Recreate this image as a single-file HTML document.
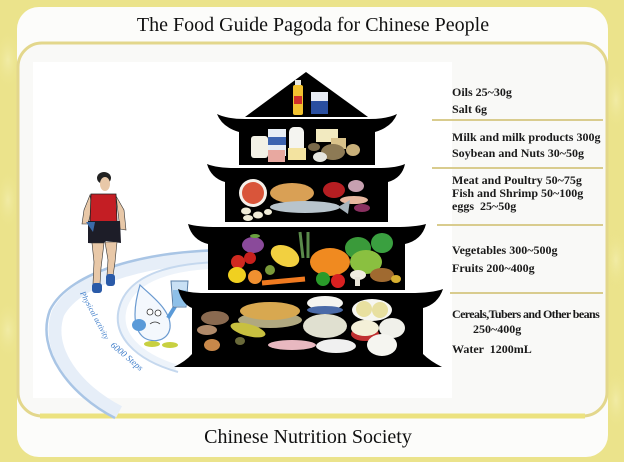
<!DOCTYPE html>
<html><head><meta charset="utf-8"><style>
html,body{margin:0;padding:0;width:624px;height:462px;overflow:hidden;background:#ebe38b}
svg{display:block}
.t{font-family:"Liberation Serif",serif;fill:#111}
.r{font-family:"Liberation Serif",serif;font-weight:bold;font-size:12px;fill:#1a1a1a}
</style></head><body>
<svg width="624" height="462" viewBox="0 0 624 462" xmlns="http://www.w3.org/2000/svg">
<defs>
<radialGradient id="sw" cx="50%" cy="50%" r="50%"><stop offset="0" stop-color="#f4efb0"/><stop offset="1" stop-color="#ebe38b" stop-opacity="0"/></radialGradient>
</defs>
<rect width="624" height="462" fill="#ebe38b"/>
<g fill="url(#sw)" opacity="0.7">
<ellipse cx="8" cy="60" rx="14" ry="30"/><ellipse cx="8" cy="200" rx="12" ry="30"/><ellipse cx="8" cy="330" rx="14" ry="30"/>
<ellipse cx="616" cy="100" rx="12" ry="30"/><ellipse cx="616" cy="260" rx="12" ry="30"/><ellipse cx="616" cy="400" rx="12" ry="30"/>
</g>
<!-- outer white panel -->
<rect x="17" y="7" width="591" height="450" rx="22" fill="#fcfcfa"/>
<!-- inner panel -->
<rect x="18" y="43" width="589" height="373" rx="24" fill="#f9f9f7" stroke="#e3d78c" stroke-width="3"/>
<line x1="40" y1="416" x2="585" y2="416" stroke="#ece27f" stroke-width="5"/>
<rect x="33" y="62" width="419" height="336" fill="#ffffff"/>

<text class="t" x="313" y="31" font-size="20" text-anchor="middle">The Food Guide Pagoda for Chinese People</text>
<text class="t" x="308" y="443" font-size="20" text-anchor="middle">Chinese Nutrition Society</text>

<!-- track -->
<path d="M232,257 C152,257 78,276 58,313 C45,350 76,390 119,412" fill="none" stroke="#e6eef8" stroke-width="13"/>
<path d="M232,250 C150,250 70,270 50,310 C35,350 70,395 115,418" fill="none" stroke="#a9c5e5" stroke-width="2.5"/>
<path d="M228,265 C172,265 134,278 124,306 C115,334 138,356 176,368" fill="none" stroke="#edf3fa" stroke-width="7"/>
<path d="M228,262 C170,262 130,275 120,305 C110,335 135,360 178,372" fill="none" stroke="#c5d8ee" stroke-width="2"/>
<text x="80" y="293" font-size="8" font-style="italic" fill="#3d7cc9" font-family="Liberation Serif,serif" transform="rotate(62 80 293)">Physical activity</text>
<text x="110" y="346" font-size="9" font-style="italic" fill="#3d7cc9" font-family="Liberation Serif,serif" transform="rotate(40 110 346)">6000 Steps</text>

<!-- runner -->
<g>
<ellipse cx="104" cy="178" rx="7" ry="6" fill="#222"/>
<ellipse cx="105" cy="184" rx="5" ry="7" fill="#e8c8a8"/>
<path d="M90,195 L84,210 L82,224 L88,224 L92,208 Z" fill="#e8c8a8" stroke="#333" stroke-width="0.6"/>
<path d="M116,196 L124,210 L126,230 L120,229 L118,212 Z" fill="#e8c8a8" stroke="#333" stroke-width="0.6"/>
<path d="M91,194 L116,194 L117,222 L90,223 Z" fill="#c41e24" stroke="#222" stroke-width="0.8"/>
<path d="M88,221 L120,221 L121,243 L106,241 L103,244 L88,243 Z" fill="#1d1d28"/>
<path d="M86,222 L95,222 L93,232 Z" fill="#3a6aa8"/>
<path d="M92,243 L104,243 L101,268 L100,284 L93,284 L94,262 Z" fill="#e8c8a8" stroke="#333" stroke-width="0.6"/>
<path d="M105,242 L117,242 L115,262 L113,276 L107,276 L108,260 Z" fill="#e8c8a8" stroke="#333" stroke-width="0.6"/>
<rect x="92" y="283" width="10" height="10" rx="3" fill="#2a5aa8"/>
<rect x="106" y="274" width="9" height="12" rx="3" fill="#2a5aa8"/>
</g>

<!-- water drop -->
<g>
<path d="M140,285 C150,295 172,310 170,328 C168,342 150,344 142,336 C132,326 134,305 140,285 Z" fill="#f4f8fd" stroke="#6a9ad0" stroke-width="1.2"/>
<circle cx="150" cy="312" r="3" fill="#fff" stroke="#333" stroke-width="0.8"/>
<circle cx="158" cy="313" r="3" fill="#fff" stroke="#333" stroke-width="0.8"/>
<path d="M150,324 Q155,320 160,324" fill="none" stroke="#333" stroke-width="0.8"/>
<ellipse cx="139" cy="325" rx="7" ry="6" fill="#5a9ad8"/>
<path d="M168,318 L176,305" stroke="#5a9ad8" stroke-width="4"/>
<path d="M171,281 L188,281 L186,307 L173,307 Z" fill="#c8e0f4" stroke="#5a80a8" stroke-width="1"/>
<rect x="173" y="290" width="13" height="16" fill="#8ec0e8"/>
<ellipse cx="152" cy="344" rx="8" ry="3" fill="#c8d040"/>
<ellipse cx="170" cy="345" rx="8" ry="3" fill="#c8d040"/>
</g>

<!-- pagoda -->
<g fill="#000">
<polygon points="306,72 245,117 368,117"/>
<path d="M217,114 Q227,119 245,119 L369,119 Q387,119 397,114 Q392,127 375,132 L375,165 L239,165 L239,132 Q222,127 217,114 Z"/>
<path d="M207,164 Q217,168 235,168 L378,168 Q396,168 405,164 Q402,178 388,182 L388,222 L225,222 L225,182 Q211,178 207,164 Z"/>
<path d="M188,224 Q198,227 218,227 L395,227 Q415,227 426,224 Q422,240 405,244 L405,290 L208,290 L208,244 Q192,240 188,224 Z"/>
<path d="M178,289 Q188,293 205,293 L410,293 Q432,293 443,289 Q438,304 423,308 L423,354 Q430,361 442,367 L174,367 Q186,361 192,354 L192,308 Q182,304 178,289 Z"/>
</g>

<!-- roof items -->
<rect x="295" y="80" width="6" height="6" fill="#e8e8e0"/>
<rect x="293" y="85" width="10" height="30" rx="2" fill="#f2c230"/>
<rect x="294" y="96" width="8" height="8" fill="#d0302a"/>
<rect x="311" y="92" width="17" height="22" fill="#2a4fa0"/>
<rect x="311" y="92" width="17" height="9" fill="#e8ecf4"/>

<!-- tier 1 milk -->
<rect x="251" y="136" width="17" height="22" rx="3" fill="#f3f1e6"/>
<rect x="268" y="129" width="18" height="27" fill="#e8eef5"/>
<rect x="268" y="137" width="18" height="8" fill="#3d64b0"/>
<rect x="289" y="127" width="15" height="27" rx="5" fill="#f4f4f0"/>
<rect x="268" y="150" width="17" height="12" fill="#e8a8a0"/>
<rect x="288" y="148" width="18" height="12" fill="#f3e3a0"/>
<rect x="316" y="129" width="22" height="13" fill="#f2eac0"/>
<rect x="331" y="138" width="15" height="11" fill="#d9c28a"/>
<ellipse cx="333" cy="152" rx="12" ry="8" fill="#8d7a55"/>
<ellipse cx="353" cy="150" rx="7" ry="6" fill="#c9b07a"/>
<ellipse cx="320" cy="157" rx="7" ry="5" fill="#e6e6e0"/>
<ellipse cx="314" cy="147" rx="6" ry="4" fill="#7a6a4a"/>

<!-- tier 2 meat -->
<circle cx="253" cy="193" r="14" fill="#f5f0ea"/>
<circle cx="253" cy="193" r="11" fill="#d9553a"/>
<ellipse cx="292" cy="193" rx="22" ry="10" fill="#d9a055"/>
<ellipse cx="334" cy="190" rx="11" ry="8" fill="#b51e22"/>
<ellipse cx="356" cy="186" rx="8" ry="6" fill="#c7a0b0"/>
<ellipse cx="354" cy="200" rx="14" ry="4" fill="#e8b8a0"/>
<ellipse cx="362" cy="208" rx="8" ry="4" fill="#8a3060"/>
<ellipse cx="305" cy="207" rx="35" ry="6" fill="#b8c4cc"/>
<polygon points="338,207 350,200 348,214" fill="#a8b4bc"/>
<ellipse cx="246" cy="211" rx="5" ry="3.5" fill="#f0ecd8"/>
<ellipse cx="258" cy="215" rx="5" ry="3.5" fill="#f0ecd8"/>
<ellipse cx="248" cy="218" rx="5" ry="3" fill="#f0ecd8"/>
<ellipse cx="268" cy="212" rx="4" ry="3" fill="#f0ecd8"/>

<!-- tier 3 veg -->
<ellipse cx="253" cy="245" rx="11" ry="8" fill="#8a4a9a"/>
<ellipse cx="255" cy="236" rx="5" ry="2" fill="#6aa040"/>
<circle cx="238" cy="262" r="7" fill="#d02a20"/>
<circle cx="250" cy="258" r="6" fill="#c8201c"/>
<ellipse cx="237" cy="275" rx="9" ry="8" fill="#f0d020"/>
<circle cx="255" cy="277" r="7" fill="#f09030"/>
<circle cx="270" cy="270" r="5" fill="#7a9a3a"/>
<ellipse cx="285" cy="256" rx="15" ry="10" fill="#f2d040" transform="rotate(25 285 256)"/>
<line x1="300" y1="232" x2="303" y2="258" stroke="#5a8a4a" stroke-width="3"/>
<line x1="308" y1="232" x2="308" y2="258" stroke="#5a8a4a" stroke-width="3"/>
<line x1="262" y1="283" x2="305" y2="279" stroke="#f07a20" stroke-width="5"/>
<ellipse cx="330" cy="262" rx="20" ry="14" fill="#f08a20"/>
<ellipse cx="358" cy="248" rx="13" ry="11" fill="#3a9a3a"/>
<ellipse cx="382" cy="243" rx="11" ry="10" fill="#3aa040"/>
<ellipse cx="366" cy="262" rx="16" ry="12" fill="#8ac040"/>
<circle cx="323" cy="279" r="7" fill="#2a9a2a"/>
<circle cx="338" cy="281" r="7" fill="#d82020"/>
<ellipse cx="358" cy="275" rx="8" ry="5" fill="#f0ece0"/>
<rect x="355" y="277" width="5" height="9" fill="#e8e4d8"/>
<ellipse cx="382" cy="275" rx="12" ry="7" fill="#a06a30"/>
<ellipse cx="396" cy="279" rx="5" ry="4" fill="#d8b030"/>

<!-- tier 4 cereals -->
<ellipse cx="215" cy="318" rx="14" ry="7" fill="#8a6a50"/>
<ellipse cx="207" cy="330" rx="10" ry="5" fill="#b08a6a"/>
<ellipse cx="212" cy="345" rx="8" ry="6" fill="#c8884a"/>
<ellipse cx="240" cy="341" rx="5" ry="4" fill="#6a6a3a"/>
<ellipse cx="270" cy="320" rx="32" ry="8" fill="#b0a880"/>
<ellipse cx="270" cy="311" rx="30" ry="9" fill="#d8a850"/>
<ellipse cx="248" cy="330" rx="18" ry="6" fill="#c8c040" transform="rotate(15 248 330)"/>
<ellipse cx="325" cy="326" rx="22" ry="12" fill="#e0e0d0"/>
<ellipse cx="325" cy="303" rx="18" ry="7" fill="#f4f4f0"/>
<ellipse cx="325" cy="310" rx="18" ry="4" fill="#4a6aa8"/>
<ellipse cx="292" cy="345" rx="24" ry="5" fill="#e8b8c0"/>
<ellipse cx="336" cy="346" rx="20" ry="7" fill="#f0f0f0"/>
<ellipse cx="372" cy="310" rx="20" ry="11" fill="#f6f6f0"/>
<circle cx="364" cy="309" r="8" fill="#e8e0a0"/>
<circle cx="380" cy="310" r="8" fill="#e8e0a0"/>
<ellipse cx="365" cy="334" rx="14" ry="7" fill="#c03030"/>
<ellipse cx="365" cy="328" rx="14" ry="8" fill="#f4f0d8"/>
<ellipse cx="392" cy="328" rx="13" ry="10" fill="#f0f0ea"/>
<ellipse cx="382" cy="345" rx="15" ry="11" fill="#f5f5f0"/>

<!-- right labels -->
<g stroke="#d9cc8e" stroke-width="2">
<line x1="432" y1="120" x2="603" y2="120"/>
<line x1="432" y1="168" x2="603" y2="168"/>
<line x1="437" y1="225" x2="603" y2="225"/>
<line x1="450" y1="293" x2="603" y2="293"/>
</g>
<text class="r" x="452" y="96">Oils 25~30g</text>
<text class="r" x="452" y="113">Salt 6g</text>
<text class="r" x="452" y="141">Milk and milk products 300g</text>
<text class="r" x="452" y="157">Soybean and Nuts 30~50g</text>
<text class="r" x="452" y="184">Meat and Poultry 50~75g</text>
<text class="r" x="452" y="197">Fish and Shrimp 50~100g</text>
<text class="r" x="452" y="210" xml:space="preserve">eggs  25~50g</text>
<text class="r" x="452" y="254">Vegetables 300~500g</text>
<text class="r" x="452" y="272">Fruits 200~400g</text>
<text class="r" x="452" y="318" letter-spacing="-0.6">Cereals,Tubers and Other beans</text>
<text class="r" x="473" y="333">250~400g</text>
<text class="r" x="452" y="353" xml:space="preserve">Water  1200mL</text>
</svg>
</body></html>
